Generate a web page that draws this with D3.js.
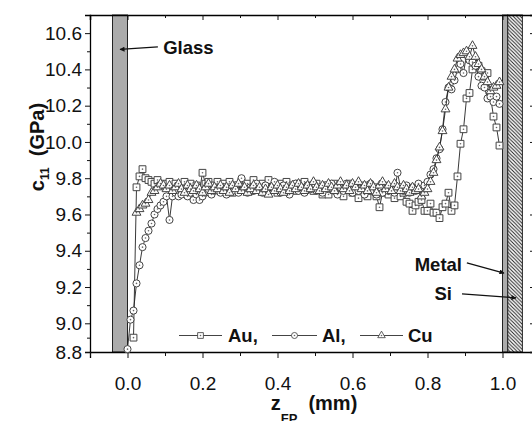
<!DOCTYPE html>
<html>
<head>
<meta charset="utf-8">
<script src="https://cdn.jsdelivr.net/npm/d3@7"></script>
<style>
  html, body { margin: 0; padding: 0; background: #fff; }
  svg { display: block; }
  text { font-family: "Liberation Sans", Arial, Helvetica, sans-serif; fill: #111; }
</style>
</head>
<body>
<svg id="chart" width="532" height="421"></svg>
<script>
// Sampling positions along the film (mm)
const zGrid = [
  0.000,0.008,0.016,0.024,0.032,0.040,0.048,0.056,0.064,0.072,
  0.080,0.088,0.096,0.104,0.112,0.120,0.128,0.136,0.144,0.152,
  0.160,0.168,0.176,0.184,0.192,0.200,0.208,0.216,0.224,0.232,
  0.240,0.248,0.256,0.264,0.272,0.280,0.288,0.296,0.304,0.312,
  0.320,0.328,0.336,0.344,0.352,0.360,0.368,0.376,0.384,0.392,
  0.400,0.408,0.416,0.424,0.432,0.440,0.448,0.456,0.464,0.472,
  0.480,0.488,0.496,0.504,0.512,0.520,0.528,0.536,0.544,0.552,
  0.560,0.568,0.576,0.584,0.592,0.600,0.608,0.616,0.624,0.632,
  0.640,0.648,0.656,0.664,0.672,0.680,0.688,0.696,0.704,0.712,
  0.720,0.728,0.736,0.744,0.752,0.760,0.768,0.776,0.784,0.792,
  0.800,0.808,0.816,0.824,0.832,0.840,0.848,0.856,0.864,0.872,
  0.880,0.888,0.896,0.904,0.912,0.920,0.928,0.936,0.944,0.952,
  0.960,0.968,0.976,0.984,0.992
];

// c11 (GPa) for the Au electrode
const c11Au = [
  null,null,8.90,9.75,9.81,9.85,9.80,9.79,9.78,9.77,
  9.79,9.76,9.77,9.75,9.78,9.74,9.77,9.73,9.76,9.78,
  9.75,9.77,9.74,9.76,9.73,9.83,9.77,9.78,9.74,9.76,
  9.78,9.73,9.77,9.75,9.78,9.72,9.76,9.74,9.78,9.75,
  9.77,9.73,9.79,9.76,9.74,9.77,9.75,9.79,9.74,9.76,
  9.72,9.77,9.75,9.78,9.74,9.76,9.73,9.77,9.75,9.78,
  9.74,9.76,9.73,9.77,9.74,9.71,9.76,9.71,9.75,9.77,
  9.73,9.76,9.70,9.74,9.77,9.72,9.75,9.69,9.74,9.76,
  9.70,9.73,9.75,9.70,9.64,9.72,9.75,9.71,9.74,9.69,
  9.73,9.70,9.72,9.67,9.66,9.62,9.65,9.67,9.68,9.62,
  9.62,9.66,9.61,9.61,9.58,9.64,9.66,9.72,9.62,9.65,
  9.81,9.99,10.07,10.24,10.27,10.40,10.43,10.42,10.39,10.36,
  10.38,10.25,10.14,10.08,9.98
];

// c11 (GPa) for the Al electrode
const c11Al = [
  8.82,9.02,9.07,9.22,9.32,9.42,9.47,9.51,9.55,9.60,
  9.63,9.65,9.67,9.70,9.57,9.70,9.72,9.70,9.71,9.73,
  9.70,9.72,9.68,9.71,9.68,9.70,9.72,9.74,9.71,9.73,
  9.75,9.72,9.74,9.71,9.75,9.73,9.76,9.72,9.80,9.74,
  9.72,9.75,9.73,9.77,9.74,9.72,9.76,9.73,9.75,9.78,
  9.74,9.72,9.76,9.74,9.71,9.75,9.77,9.73,9.75,9.72,
  9.76,9.74,9.77,9.73,9.75,9.72,9.76,9.74,9.77,9.73,
  9.71,9.75,9.73,9.77,9.74,9.72,9.76,9.73,9.75,9.71,
  9.74,9.77,9.73,9.71,9.75,9.72,9.76,9.73,9.74,9.72,
  9.83,9.75,9.73,9.76,9.72,9.75,9.73,9.77,9.74,9.76,
  9.78,9.82,9.85,9.91,9.96,10.07,10.22,10.30,10.29,10.34,
  10.40,10.43,10.38,10.48,10.45,10.44,10.42,10.36,10.31,10.30,
  10.24,10.25,10.22,10.25,10.21
];

// c11 (GPa) for the Cu electrode
const c11Cu = [
  null,null,null,9.61,9.63,9.65,9.66,9.68,9.72,9.73,
  9.75,9.77,9.76,9.74,9.76,9.73,9.75,9.77,9.74,9.72,
  9.76,9.74,9.73,9.76,9.74,9.72,9.75,9.77,9.73,9.75,
  9.74,9.76,9.73,9.75,9.72,9.76,9.74,9.77,9.73,9.75,
  9.72,9.74,9.76,9.73,9.75,9.72,9.74,9.71,9.75,9.73,
  9.76,9.74,9.72,9.75,9.73,9.76,9.74,9.77,9.75,9.73,
  9.76,9.74,9.78,9.75,9.73,9.76,9.74,9.77,9.75,9.73,
  9.76,9.78,9.74,9.76,9.73,9.77,9.75,9.78,9.74,9.76,
  9.73,9.77,9.75,9.72,9.76,9.78,9.74,9.76,9.73,9.77,
  9.75,9.73,9.76,9.74,9.72,9.75,9.73,9.74,9.70,9.72,
  9.74,9.78,9.83,9.90,9.97,10.06,10.18,10.30,10.36,10.40,
  10.46,10.48,10.49,10.50,10.47,10.53,10.47,10.43,10.40,10.36,
  10.33,10.28,10.30,10.31,10.33
];

const seriesNames = ["Au,", "Al,", "Cu"];
const seriesMarkers = ["square", "circle", "triangle"];
const xTickLabels = [0.0, 0.2, 0.4, 0.6, 0.8, 1.0];
const yTickLabels = [8.8, 9.0, 9.2, 9.4, 9.6, 9.8, 10.0, 10.2, 10.4, 10.6];
const xMinorTicks = [-0.1, 0.1, 0.3, 0.5, 0.7, 0.9];
const yMinorTicks = [8.9, 9.1, 9.3, 9.5, 9.7, 9.9, 10.1, 10.3, 10.5];
// Layers at either end of the film (mm)
const glassLayer = [-0.04, 0.0];
const metalLayer = [1.0, 1.014];
const siLayer = [1.014, 1.053];

const svg = d3.select("#chart");
const plotL = 90, plotR = 534, plotT = 15, plotB = 352;

const x = d3.scaleLinear().domain([-0.1, 1.084]).range([plotL, plotR]);
const y = d3.scaleLinear().domain([8.8, 9.0, 10.7]).range([plotB, 323.3, plotT]);

// Hatch for the silicon substrate
const defs = svg.append("defs");
const pat = defs.append("pattern")
  .attr("id", "hatch").attr("patternUnits", "userSpaceOnUse")
  .attr("width", 3.6).attr("height", 3.6);
pat.append("rect").attr("width", 3.6).attr("height", 3.6).attr("fill", "#fff");
pat.append("path")
  .attr("d", "M0,0 L3.6,3.6 M-1,2.6 L1,4.6 M2.6,-1 L4.6,1")
  .attr("stroke", "#222").attr("stroke-width", 1);

defs.append("marker")
  .attr("id", "arrow").attr("viewBox", "0 0 10 10")
  .attr("refX", 9).attr("refY", 5)
  .attr("markerWidth", 7).attr("markerHeight", 5)
  .attr("markerUnits", "userSpaceOnUse")
  .attr("orient", "auto")
  .append("path").attr("d", "M0,0 L10,5 L0,10 Z").attr("fill", "#111");

// Layer bands
svg.append("rect")
  .attr("x", x(glassLayer[0])).attr("y", plotT)
  .attr("width", x(glassLayer[1]) - x(glassLayer[0])).attr("height", plotB - plotT)
  .attr("fill", "#ababab").attr("stroke", "#222").attr("stroke-width", 1);
svg.append("rect")
  .attr("x", x(metalLayer[0])).attr("y", plotT)
  .attr("width", x(metalLayer[1]) - x(metalLayer[0])).attr("height", plotB - plotT)
  .attr("fill", "#ababab").attr("stroke", "#222").attr("stroke-width", 1);
svg.append("rect")
  .attr("x", x(siLayer[0])).attr("y", plotT)
  .attr("width", x(siLayer[1]) - x(siLayer[0])).attr("height", plotB - plotT)
  .attr("fill", "url(#hatch)").attr("stroke", "#222").attr("stroke-width", 1);

// Frame and axes
const axisG = svg.append("g");
axisG.append("g").attr("transform", `translate(${plotL},0)`)
  .call(d3.axisLeft(y).tickValues(yTickLabels).tickSize(5).tickPadding(3)
    .tickFormat(d3.format(".1f")))
  .call(g => g.select(".domain").attr("stroke-width", 1.3));
axisG.append("g").attr("transform", `translate(${plotL},0)`)
  .call(d3.axisLeft(y).tickValues(yMinorTicks).tickSize(3).tickFormat(""))
  .call(g => g.select(".domain").remove());
axisG.append("g").attr("transform", `translate(0,${plotB})`)
  .call(d3.axisBottom(x).tickValues(xTickLabels).tickSize(6).tickPadding(19)
    .tickFormat(d3.format(".1f")))
  .call(g => g.select(".domain").attr("stroke-width", 1.3));
axisG.append("g").attr("transform", `translate(0,${plotB})`)
  .call(d3.axisBottom(x).tickValues(xMinorTicks).tickSize(4).tickFormat(""))
  .call(g => g.select(".domain").remove());
axisG.append("g").attr("transform", `translate(0,${plotT})`)
  .call(d3.axisTop(x).tickValues(xTickLabels).tickSize(-5).tickFormat(""))
  .call(g => g.select(".domain").attr("stroke-width", 1.5));
axisG.append("g").attr("transform", `translate(0,${plotT})`)
  .call(d3.axisTop(x).tickValues(xMinorTicks.slice(1)).tickSize(-3).tickFormat(""))
  .call(g => g.select(".domain").remove());
axisG.append("g").attr("transform", `translate(${plotR},0)`)
  .call(d3.axisRight(y).tickValues(yTickLabels).tickSize(-4).tickFormat(""))
  .call(g => g.select(".domain").attr("stroke-width", 1.3));
axisG.selectAll(".tick text")
  .attr("font-size", 19)
  .attr("font-family", "'Liberation Sans', Arial, sans-serif")
  .attr("fill", "#222");
axisG.selectAll(".tick line").attr("stroke", "#111");

// Data series
const markerPath = {
  square: d3.symbol(d3.symbolSquare, 46)(),
  circle: d3.symbol(d3.symbolCircle, 40)(),
  triangle: d3.symbol(d3.symbolTriangle, 34)()
};
const allSeries = [c11Au, c11Al, c11Cu];
const line = d3.line()
  .defined(d => d.v != null)
  .x(d => x(d.z)).y(d => y(d.v));

allSeries.forEach((vals, k) => {
  const pts = zGrid.map((z, i) => ({ z, v: vals[i] }));
  const g = svg.append("g");
  g.append("path").datum(pts)
    .attr("d", line).attr("fill", "none")
    .attr("stroke", "#222").attr("stroke-width", 0.9);
  const mk = g.selectAll("g.pt").data(pts.filter(d => d.v != null)).join("g")
    .attr("class", "pt")
    .attr("transform", d => `translate(${x(d.z)},${y(d.v)})`);
  mk.append("path").attr("d", markerPath[seriesMarkers[k]])
    .attr("fill", "#fff").attr("stroke", "#444").attr("stroke-width", 1);
  mk.append("circle").attr("r", 0.8).attr("fill", "#666");
});

// Legend
const legendItems = [
  { x0: 179, x1: 222, tx: 228 },
  { x0: 272, x1: 317, tx: 322 },
  { x0: 360, x1: 403, tx: 408 }
];
const legendY = 335.5;
legendItems.forEach((it, k) => {
  const g = svg.append("g");
  g.append("line").attr("x1", it.x0).attr("x2", it.x1)
    .attr("y1", legendY).attr("y2", legendY)
    .attr("stroke", "#444").attr("stroke-width", 1);
  const cx = (it.x0 + it.x1) / 2;
  g.append("path").attr("d", markerPath[seriesMarkers[k]])
    .attr("transform", `translate(${cx},${legendY}) scale(0.85)`)
    .attr("fill", "#fff").attr("stroke", "#444").attr("stroke-width", 1);
  g.append("circle").attr("cx", cx).attr("cy", legendY).attr("r", 0.8).attr("fill", "#666");
  g.append("text").attr("x", it.tx).attr("y", legendY + 6.5)
    .attr("font-size", 18.5).attr("font-weight", "bold")
    .text(seriesNames[k]);
});

// Layer annotations
function note(label, tx, ty, anchor, ax0, ay0, ax1, ay1) {
  svg.append("text").attr("x", x(tx)).attr("y", y(ty))
    .attr("text-anchor", anchor)
    .attr("font-size", 18.5).attr("font-weight", "bold").text(label);
  svg.append("line")
    .attr("x1", x(ax0)).attr("y1", y(ay0)).attr("x2", x(ax1)).attr("y2", y(ay1))
    .attr("stroke", "#111").attr("stroke-width", 1.2)
    .attr("marker-end", "url(#arrow)");
}
note("Glass", 0.095, 10.485, "start", 0.081, 10.524, -0.02, 10.51);
note("Metal", 0.892, 9.29, "end", 0.905, 9.333, 1.004, 9.277);
note("Si", 0.865, 9.128, "end", 0.892, 9.162, 1.036, 9.14);

// Axis titles
const yTitle = svg.append("text")
  .attr("transform", "translate(44,147) rotate(-90)")
  .attr("text-anchor", "middle")
  .attr("font-size", 20).attr("font-weight", "bold");
yTitle.append("tspan").text("c");
yTitle.append("tspan").attr("font-size", 12).attr("dy", 5).text("11");
yTitle.append("tspan").attr("dy", -5).text("\u00a0\u00a0(GPa)");

const xTitle = svg.append("text")
  .attr("x", 314).attr("y", 410)
  .attr("text-anchor", "middle")
  .attr("font-size", 20).attr("font-weight", "bold");
xTitle.append("tspan").text("z");
xTitle.append("tspan").attr("font-size", 13).attr("dy", 13).text("FP");
xTitle.append("tspan").attr("dy", -13).text("\u00a0\u00a0(mm)");
</script>
</body>
</html>
